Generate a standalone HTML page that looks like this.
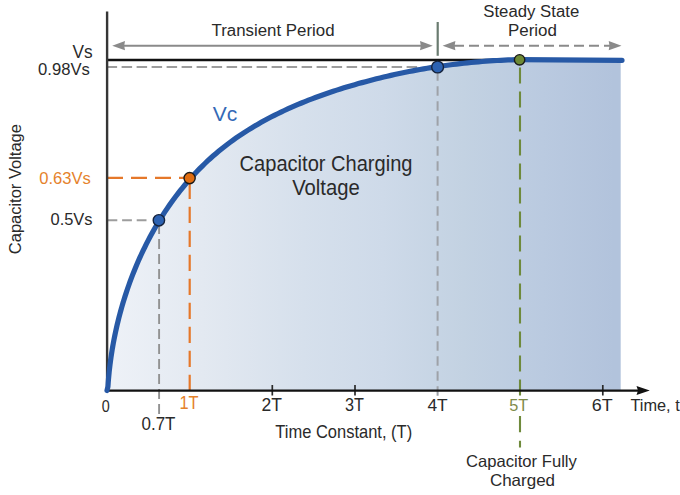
<!DOCTYPE html>
<html><head><meta charset="utf-8"><style>
html,body{margin:0;padding:0;background:#fff;}
svg{display:block;}
text{font-family:"Liberation Sans", Arial, sans-serif;}
</style></head><body>
<svg width="680" height="495" viewBox="0 0 680 495">
<defs>
<linearGradient id="fg" x1="107" y1="0" x2="621" y2="0" gradientUnits="userSpaceOnUse">
<stop offset="0.0136" stop-color="rgb(237,241,247)"/>
<stop offset="0.1868" stop-color="rgb(227,233,241)"/>
<stop offset="0.3813" stop-color="rgb(214,224,236)"/>
<stop offset="0.5370" stop-color="rgb(206,218,233)"/>
<stop offset="0.6926" stop-color="rgb(195,210,226)"/>
<stop offset="0.8482" stop-color="rgb(186,202,224)"/>
<stop offset="0.9864" stop-color="rgb(178,195,220)"/>
</linearGradient>
</defs>
<path d="M107.00,390.50 L107.93,386.57 L108.18,382.96 L108.47,379.33 L108.80,375.70 L109.16,372.07 L109.56,368.43 L110.00,364.79 L110.47,361.14 L110.98,357.50 L111.52,353.85 L112.10,350.20 L112.72,346.55 L113.37,342.91 L114.06,339.26 L114.79,335.62 L115.55,331.98 L116.35,328.34 L117.19,324.71 L118.06,321.09 L118.97,317.46 L119.91,313.85 L120.89,310.24 L121.91,306.64 L122.96,303.05 L124.05,299.47 L125.18,295.89 L126.34,292.33 L127.54,288.78 L128.77,285.24 L130.04,281.71 L131.35,278.20 L132.69,274.69 L134.07,271.21 L135.48,267.74 L136.93,264.28 L138.42,260.84 L139.94,257.42 L141.50,254.01 L143.09,250.63 L144.72,247.26 L146.39,243.91 L148.09,240.59 L149.83,237.28 L151.60,234.00 L153.41,230.74 L155.26,227.50 L157.14,224.28 L159.06,221.09 L161.01,217.93 L163.00,214.79 L165.03,211.68 L167.09,208.59 L169.18,205.54 L171.31,202.51 L173.48,199.51 L175.69,196.54 L177.93,193.60 L180.20,190.70 L182.51,187.82 L184.86,184.98 L187.24,182.17 L189.66,179.39 L192.11,176.65 L194.60,173.95 L197.12,171.28 L199.68,168.64 L202.28,166.05 L204.91,163.49 L207.58,160.97 L210.28,158.49 L213.02,156.05 L215.79,153.66 L218.60,151.30 L221.44,148.98 L224.32,146.70 L227.23,144.47 L230.17,142.27 L233.14,140.11 L236.14,137.99 L239.18,135.91 L242.24,133.86 L245.33,131.85 L248.45,129.88 L251.60,127.95 L254.77,126.05 L257.96,124.18 L261.19,122.35 L264.43,120.56 L267.70,118.80 L270.99,117.07 L274.31,115.38 L277.64,113.72 L280.99,112.09 L284.37,110.50 L287.76,108.93 L291.17,107.40 L294.60,105.90 L298.04,104.42 L301.50,102.98 L304.98,101.57 L308.46,100.18 L311.97,98.83 L315.48,97.50 L319.01,96.20 L322.55,94.93 L326.09,93.69 L329.65,92.47 L333.22,91.27 L336.79,90.11 L340.38,88.96 L343.97,87.85 L347.56,86.75 L351.16,85.68 L354.77,84.64 L358.37,83.62 L361.99,82.62 L365.60,81.64 L369.21,80.68 L372.83,79.75 L376.45,78.83 L380.06,77.94 L383.68,77.07 L387.30,76.22 L390.92,75.39 L394.54,74.58 L398.16,73.80 L401.79,73.03 L405.41,72.28 L409.04,71.56 L412.67,70.86 L416.30,70.18 L419.93,69.52 L423.57,68.88 L427.21,68.26 L430.85,67.66 L434.49,67.08 L438.14,66.53 L441.79,65.99 L445.44,65.48 L449.10,64.99 L452.76,64.52 L456.42,64.07 L460.09,63.64 L463.76,63.23 L467.43,62.84 L471.11,62.47 L474.79,62.12 L478.48,61.80 L482.17,61.49 L485.86,61.21 L489.56,60.94 L493.27,60.70 L496.98,60.48 L500.69,60.28 L504.41,60.10 L508.14,59.94 L511.87,59.80 L515.60,59.68 L519.35,59.58 L622,60.3 L620.7,60.3 L620.7,390.5 L107,390.5 Z" fill="url(#fg)"/>
<!-- Vs line -->
<line x1="107" y1="60" x2="500" y2="60" stroke="#111" stroke-width="2.5"/>
<!-- 0.98 dashed -->
<line x1="106.6" y1="67" x2="417.1" y2="67" stroke="#9d9d9d" stroke-width="1.9" stroke-dasharray="10.5,4.5"/>
<!-- 0.5 dashed -->
<line x1="107.5" y1="220.3" x2="148" y2="220.3" stroke="#9d9d9d" stroke-width="1.9" stroke-dasharray="9.8,4.8"/>
<!-- 0.7T vertical -->
<line x1="159.1" y1="224.1" x2="159.1" y2="414.6" stroke="#929292" stroke-width="1.9" stroke-dasharray="10,5"/>
<!-- 4T vertical -->
<line x1="437.6" y1="71.2" x2="437.6" y2="396" stroke="#9ea2a8" stroke-width="2" stroke-dasharray="9.6,5.4"/>
<!-- orange -->
<line x1="107" y1="177.9" x2="184" y2="177.9" stroke="#e5782a" stroke-width="2.2" stroke-dasharray="16,8"/>
<line x1="189.7" y1="182.7" x2="189.7" y2="391" stroke="#e5782a" stroke-width="2.2" stroke-dasharray="16.2,7.8"/>
<!-- green -->
<line x1="520" y1="67.4" x2="520" y2="396" stroke="#6f8a3c" stroke-width="2.1" stroke-dasharray="16,8"/>
<line x1="520" y1="416" x2="520" y2="447.4" stroke="#6f8a3c" stroke-width="2.1" stroke-dasharray="16.3,8.5"/>
<!-- ticks -->
<g stroke="#2a2a2a" stroke-width="1.7">
<line x1="272.3" y1="385" x2="272.3" y2="395.5"/>
<line x1="355" y1="385" x2="355" y2="395.5"/>
<line x1="602.8" y1="385" x2="602.8" y2="395.5"/>
</g>
<!-- axes -->
<line x1="107.1" y1="11.5" x2="107.1" y2="391" stroke="#363636" stroke-width="2.4"/>
<line x1="106" y1="390.7" x2="638" y2="390.7" stroke="#111" stroke-width="2.3"/>
<path d="M636.5,386.1 L649.8,390.6 L636.5,395.1 L638,390.6 Z" fill="#111"/>
<!-- curve -->
<path d="M107.00,390.50 L107.93,386.57 L108.18,382.96 L108.47,379.33 L108.80,375.70 L109.16,372.07 L109.56,368.43 L110.00,364.79 L110.47,361.14 L110.98,357.50 L111.52,353.85 L112.10,350.20 L112.72,346.55 L113.37,342.91 L114.06,339.26 L114.79,335.62 L115.55,331.98 L116.35,328.34 L117.19,324.71 L118.06,321.09 L118.97,317.46 L119.91,313.85 L120.89,310.24 L121.91,306.64 L122.96,303.05 L124.05,299.47 L125.18,295.89 L126.34,292.33 L127.54,288.78 L128.77,285.24 L130.04,281.71 L131.35,278.20 L132.69,274.69 L134.07,271.21 L135.48,267.74 L136.93,264.28 L138.42,260.84 L139.94,257.42 L141.50,254.01 L143.09,250.63 L144.72,247.26 L146.39,243.91 L148.09,240.59 L149.83,237.28 L151.60,234.00 L153.41,230.74 L155.26,227.50 L157.14,224.28 L159.06,221.09 L161.01,217.93 L163.00,214.79 L165.03,211.68 L167.09,208.59 L169.18,205.54 L171.31,202.51 L173.48,199.51 L175.69,196.54 L177.93,193.60 L180.20,190.70 L182.51,187.82 L184.86,184.98 L187.24,182.17 L189.66,179.39 L192.11,176.65 L194.60,173.95 L197.12,171.28 L199.68,168.64 L202.28,166.05 L204.91,163.49 L207.58,160.97 L210.28,158.49 L213.02,156.05 L215.79,153.66 L218.60,151.30 L221.44,148.98 L224.32,146.70 L227.23,144.47 L230.17,142.27 L233.14,140.11 L236.14,137.99 L239.18,135.91 L242.24,133.86 L245.33,131.85 L248.45,129.88 L251.60,127.95 L254.77,126.05 L257.96,124.18 L261.19,122.35 L264.43,120.56 L267.70,118.80 L270.99,117.07 L274.31,115.38 L277.64,113.72 L280.99,112.09 L284.37,110.50 L287.76,108.93 L291.17,107.40 L294.60,105.90 L298.04,104.42 L301.50,102.98 L304.98,101.57 L308.46,100.18 L311.97,98.83 L315.48,97.50 L319.01,96.20 L322.55,94.93 L326.09,93.69 L329.65,92.47 L333.22,91.27 L336.79,90.11 L340.38,88.96 L343.97,87.85 L347.56,86.75 L351.16,85.68 L354.77,84.64 L358.37,83.62 L361.99,82.62 L365.60,81.64 L369.21,80.68 L372.83,79.75 L376.45,78.83 L380.06,77.94 L383.68,77.07 L387.30,76.22 L390.92,75.39 L394.54,74.58 L398.16,73.80 L401.79,73.03 L405.41,72.28 L409.04,71.56 L412.67,70.86 L416.30,70.18 L419.93,69.52 L423.57,68.88 L427.21,68.26 L430.85,67.66 L434.49,67.08 L438.14,66.53 L441.79,65.99 L445.44,65.48 L449.10,64.99 L452.76,64.52 L456.42,64.07 L460.09,63.64 L463.76,63.23 L467.43,62.84 L471.11,62.47 L474.79,62.12 L478.48,61.80 L482.17,61.49 L485.86,61.21 L489.56,60.94 L493.27,60.70 L496.98,60.48 L500.69,60.28 L504.41,60.10 L508.14,59.94 L511.87,59.80 L515.60,59.68 L519.35,59.58 L622,60.3" fill="none" stroke="#2759a6" stroke-width="5.2" stroke-linecap="round" stroke-linejoin="round"/>
<!-- dots -->
<circle cx="158.9" cy="220.3" r="5.7" fill="#2c62b2" stroke="#15233d" stroke-width="1.4"/>
<circle cx="189.6" cy="178.1" r="5.6" fill="#e06c10" stroke="#1a1a1a" stroke-width="1.4"/>
<circle cx="437.6" cy="67" r="5.9" fill="#2c62b2" stroke="#15233d" stroke-width="1.4"/>
<circle cx="519.6" cy="59.8" r="5.2" fill="#6d8a35" stroke="#1a1a1a" stroke-width="1.4"/>
<!-- top arrows -->
<line x1="120" y1="45.7" x2="428" y2="45.7" stroke="#8a8a8a" stroke-width="2"/>
<path d="M112.2,45.7 L125,41.1 L124.2,45.7 L125,50.3 Z" fill="#8a8a8a"/>
<path d="M432.8,45.7 L420,41.1 L420.8,45.7 L420,50.3 Z" fill="#8a8a8a"/>
<line x1="437.7" y1="22" x2="437.7" y2="55.8" stroke="#6a7b70" stroke-width="2.2"/>
<line x1="454" y1="45.7" x2="612" y2="45.7" stroke="#8a8a8a" stroke-width="2" stroke-dasharray="10,5"/>
<path d="M442.6,45.7 L455.4,41.1 L454.6,45.7 L455.4,50.3 Z" fill="#8a8a8a"/>
<path d="M621.5,45.7 L608.7,41.1 L609.5,45.7 L608.7,50.3 Z" fill="#8a8a8a"/>
<!-- texts -->
<text x="211.50" y="36.40" font-size="17.3" textLength="123.13" lengthAdjust="spacingAndGlyphs" fill="#2a2a2a">Transient Period</text>
<text x="483.30" y="16.70" font-size="17.3" textLength="95.91" lengthAdjust="spacingAndGlyphs" fill="#2a2a2a">Steady State</text>
<text x="508.00" y="36.30" font-size="17.3" textLength="48.93" lengthAdjust="spacingAndGlyphs" fill="#2a2a2a">Period</text>
<text x="72.40" y="57.70" font-size="17.6" textLength="20.14" lengthAdjust="spacingAndGlyphs" fill="#2a2a2a">Vs</text>
<text x="38.00" y="75.00" font-size="17.3" textLength="51.83" lengthAdjust="spacingAndGlyphs" fill="#2a2a2a">0.98Vs</text>
<text x="39.20" y="184.40" font-size="17.2" textLength="51.70" lengthAdjust="spacingAndGlyphs" fill="#e5822b">0.63Vs</text>
<text x="50.50" y="224.60" font-size="17" textLength="42.08" lengthAdjust="spacingAndGlyphs" fill="#2a2a2a">0.5Vs</text>
<text x="212.70" y="120.90" font-size="20.5" textLength="24.56" lengthAdjust="spacingAndGlyphs" fill="#3469b6">Vc</text>
<text x="239.60" y="171.40" font-size="21.6" textLength="172.90" lengthAdjust="spacingAndGlyphs" fill="#2a2a2a">Capacitor Charging</text>
<text x="292.20" y="194.80" font-size="21.4" textLength="67.56" lengthAdjust="spacingAndGlyphs" fill="#2a2a2a">Voltage</text>
<text x="101.80" y="412.20" font-size="17.3" textLength="7.99" lengthAdjust="spacingAndGlyphs" fill="#2a2a2a">0</text>
<text x="179.40" y="408.50" font-size="17.5" textLength="19.17" lengthAdjust="spacingAndGlyphs" fill="#e5822b">1T</text>
<text x="261.40" y="411.00" font-size="17.5" textLength="20.46" lengthAdjust="spacingAndGlyphs" fill="#2a2a2a">2T</text>
<text x="345.00" y="411.10" font-size="17.6" textLength="18.94" lengthAdjust="spacingAndGlyphs" fill="#2a2a2a">3T</text>
<text x="427.40" y="411.10" font-size="17.4" textLength="20.30" lengthAdjust="spacingAndGlyphs" fill="#2a2a2a">4T</text>
<text x="509.30" y="411.10" font-size="17.4" textLength="19.04" lengthAdjust="spacingAndGlyphs" fill="#7f8b4a">5T</text>
<text x="591.70" y="410.90" font-size="17.2" textLength="20.93" lengthAdjust="spacingAndGlyphs" fill="#2a2a2a">6T</text>
<text x="630.40" y="410.90" font-size="17.2" textLength="49.30" lengthAdjust="spacingAndGlyphs" fill="#2a2a2a">Time, t</text>
<text x="141.50" y="430.00" font-size="17.7" textLength="33.99" lengthAdjust="spacingAndGlyphs" fill="#2a2a2a">0.7T</text>
<text x="275.30" y="437.70" font-size="18.1" textLength="136.84" lengthAdjust="spacingAndGlyphs" fill="#2a2a2a">Time Constant, (T)</text>
<text x="466.00" y="466.90" font-size="16.5" textLength="110.86" lengthAdjust="spacingAndGlyphs" fill="#2a2a2a">Capacitor Fully</text>
<text x="489.90" y="485.80" font-size="16.5" textLength="65.17" lengthAdjust="spacingAndGlyphs" fill="#2a2a2a">Charged</text>
<text transform="translate(21.00,253.2) rotate(-90)" x="-1.00" y="0" font-size="17.3" textLength="130.16" lengthAdjust="spacingAndGlyphs" fill="#2a2a2a">Capacitor Voltage</text>
</svg>
</body></html>
